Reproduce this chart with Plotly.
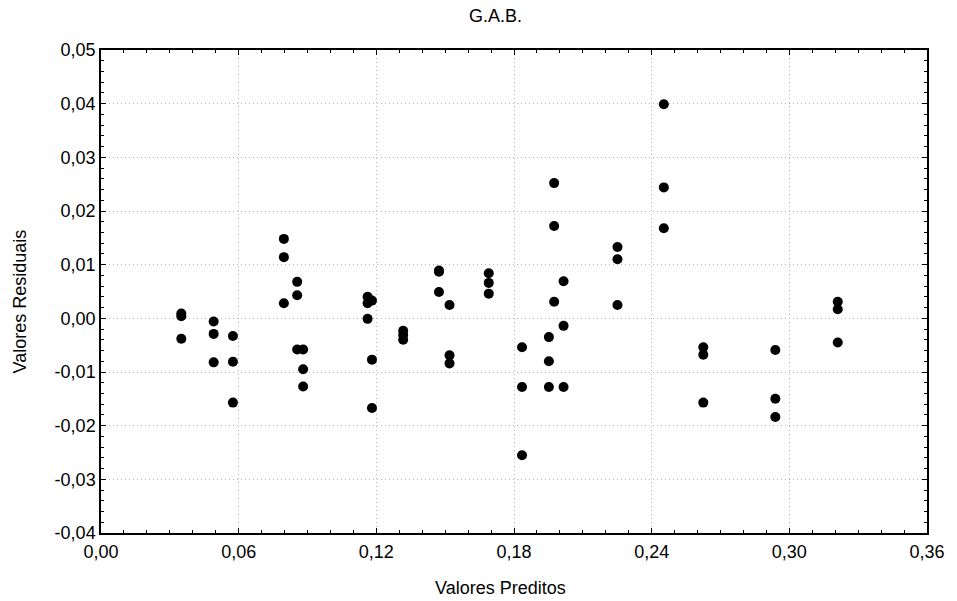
import plotly.graph_objects as go

predicted = [
    0.0350, 0.0350, 0.0350,
    0.0491, 0.0491, 0.0491,
    0.0575, 0.0575, 0.0575,
    0.0797, 0.0797, 0.0797,
    0.0855, 0.0855, 0.0855,
    0.0881, 0.0881, 0.0881,
    0.1162, 0.1162, 0.1162,
    0.1181, 0.1181, 0.1181,
    0.1317, 0.1317, 0.1317,
    0.1473, 0.1473, 0.1473,
    0.1519, 0.1519, 0.1519,
    0.1690, 0.1690, 0.1690,
    0.1835, 0.1835, 0.1835,
    0.1952, 0.1952, 0.1952,
    0.1975, 0.1975, 0.1975,
    0.2016, 0.2016, 0.2016,
    0.2251, 0.2251, 0.2251,
    0.2453, 0.2453, 0.2453,
    0.2625, 0.2625, 0.2625,
    0.2939, 0.2939, 0.2939,
    0.3211, 0.3211, 0.3211,
]

residuals = [
    0.0009, 0.0004, -0.0038,
    -0.0006, -0.0029, -0.0082,
    -0.0033, -0.0081, -0.0157,
    0.0148, 0.0114, 0.0028,
    0.0068, 0.0043, -0.0058,
    -0.0058, -0.0095, -0.0127,
    0.0040, 0.0028, -0.0001,
    0.0033, -0.0077, -0.0167,
    -0.0023, -0.0031, -0.0040,
    0.0089, 0.0087, 0.0049,
    0.0025, -0.0069, -0.0084,
    0.0084, 0.0066, 0.0046,
    -0.0054, -0.0128, -0.0255,
    -0.0035, -0.0080, -0.0128,
    0.0252, 0.0172, 0.0031,
    0.0069, -0.0014, -0.0128,
    0.0133, 0.0110, 0.0025,
    0.0399, 0.0244, 0.0168,
    -0.0054, -0.0068, -0.0157,
    -0.0059, -0.0150, -0.0184,
    0.0031, 0.0017, -0.0045,
]

x_ticks = [0.00, 0.06, 0.12, 0.18, 0.24, 0.30, 0.36]
y_ticks = [-0.04, -0.03, -0.02, -0.01, 0.00, 0.01, 0.02, 0.03, 0.04, 0.05]

title_text = "G.A.B."
x_title = "Valores Preditos"
y_title = "Valores Residuais"


def fmt(v):
    s = f"{v:.2f}".replace(".", ",")
    return "0,00" if s == "-0,00" else s


FONT = "Liberation Sans, Arial, sans-serif"
FS = 18

fig = go.Figure()
fig.add_trace(go.Scatter(
    x=predicted, y=residuals, mode="markers",
    marker=dict(color="black", size=10, line=dict(width=0)),
    showlegend=False, hoverinfo="x+y",
))

axis_common = dict(
    showline=True, linecolor="black", linewidth=1.5, mirror="allticks",
    ticks="inside", ticklen=5, tickwidth=1, tickcolor="black",
    showgrid=True, gridcolor="#b8b8b8", gridwidth=1, griddash="1px,3px",
    zeroline=False,
    tickfont=dict(family=FONT, size=FS, color="black"),
)

fig.update_xaxes(
    range=[0, 0.36], tickmode="array", tickvals=x_ticks,
    ticktext=[fmt(v) for v in x_ticks],
    minor=dict(dtick=0.01, ticks="inside", ticklen=3, tickcolor="black", showgrid=False),
    ticklabelstandoff=2,
    **axis_common,
)
fig.update_yaxes(
    range=[-0.04, 0.05], tickmode="array", tickvals=y_ticks,
    ticktext=[fmt(v) for v in y_ticks],
    minor=dict(dtick=0.002, ticks="inside", ticklen=3, tickcolor="black", showgrid=False),
    **axis_common,
)

fig.update_layout(
    width=957, height=601,
    margin=dict(l=101, r=25, t=50, b=68, pad=0),
    paper_bgcolor="white", plot_bgcolor="white",
    font=dict(family=FONT, size=FS, color="black"),
    annotations=[
        dict(text=title_text, xref="paper", yref="paper",
             x=(498 - 101) / 831, y=1 + (50 - 16) / 483,
             xanchor="center", yanchor="middle", showarrow=False,
             font=dict(family=FONT, size=FS, color="black")),
        dict(text=x_title, xref="paper", yref="paper",
             x=(503 - 101) / 831, y=-(588 - 533) / 483,
             xanchor="center", yanchor="middle", showarrow=False,
             font=dict(family=FONT, size=FS, color="black")),
        dict(text=y_title, xref="paper", yref="paper",
             x=-(101 - 20) / 831, y=(533 - 301) / 483,
             xanchor="center", yanchor="middle", showarrow=False, textangle=-90,
             font=dict(family=FONT, size=FS, color="black")),
    ],
)

fig.write_html("out.html")
